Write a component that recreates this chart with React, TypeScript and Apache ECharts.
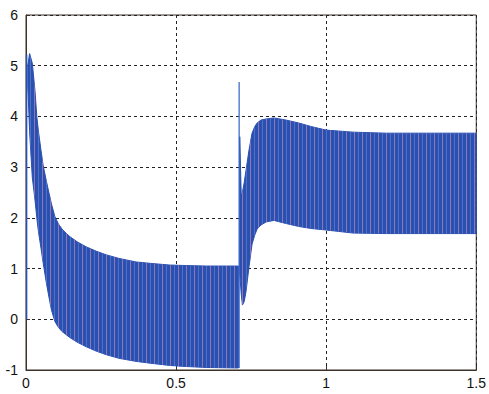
import React, { useEffect, useRef } from "react";
import * as echarts from "echarts";

// x ticks / y ticks
const xTicks = [0, 0.5, 1, 1.5];
const yTicks = [-1, 0, 1, 2, 3, 4, 5, 6];

// First interval: envelope of the oscillation (upper / lower)
const sec1Time = [0.006, 0.012, 0.021, 0.03, 0.036, 0.041, 0.05, 0.057, 0.068, 0.077, 0.085, 0.096, 0.108, 0.12, 0.133, 0.146, 0.17, 0.2, 0.235, 0.268, 0.31, 0.367, 0.42, 0.478, 0.53, 0.6, 0.705, 0.708];
const sec1Upper = [5.0, 5.24, 5.05, 4.5, 4.0, 3.73, 3.33, 3.04, 2.72, 2.48, 2.27, 2.03, 1.88, 1.78, 1.7, 1.63, 1.53, 1.43, 1.34, 1.27, 1.2, 1.13, 1.1, 1.07, 1.06, 1.05, 1.05, 1.05];
const sec1Lower = [4.6, 3.7, 2.8, 2.35, 2.0, 1.75, 1.4, 1.12, 0.71, 0.42, 0.18, -0.04, -0.16, -0.24, -0.3, -0.36, -0.45, -0.54, -0.63, -0.7, -0.77, -0.83, -0.87, -0.91, -0.93, -0.95, -0.96, -0.96];

// Second interval
const sec2Time = [0.712, 0.717, 0.721, 0.727, 0.733, 0.743, 0.753, 0.762, 0.77, 0.783, 0.8, 0.826, 0.865, 0.909, 0.95, 1.0, 1.09, 1.2, 1.35, 1.5];
const sec2Upper = [3.6, 2.45, 2.5, 2.7, 2.94, 3.34, 3.67, 3.8, 3.87, 3.93, 3.95, 3.97, 3.93, 3.87, 3.8, 3.73, 3.69, 3.67, 3.67, 3.67];
const sec2Lower = [0.9, 0.5, 0.28, 0.35, 0.55, 1.04, 1.48, 1.66, 1.78, 1.86, 1.92, 1.95, 1.89, 1.83, 1.79, 1.76, 1.7, 1.69, 1.69, 1.69];

// Single spikes
const startTime = [0.002, 0.002];
const startValue = [0, 5.22];
const spikeTime = [0.71, 0.71];
const spikeValue = [-0.96, 4.68];

const BLUE = "#2a50b0";

function makeStripes() {
  const c = document.createElement("canvas");
  c.width = 8;
  c.height = 1;
  const ctx = c.getContext("2d");
  if (ctx) {
    ctx.clearRect(0, 0, 8, 1);
    ctx.fillStyle = "rgba(214,140,190,0.6)";
    ctx.fillRect(2, 0, 1, 1);
    ctx.fillStyle = "rgba(110,145,225,0.5)";
    ctx.fillRect(6, 0, 1, 1);
  }
  return c;
}

function bandSeries(name: string, t: number[], up: number[], lo: number[], stripes: HTMLCanvasElement) {
  return {
    name,
    type: "custom",
    data: t.map((x, i) => [x, up[i], lo[i]]),
    encode: { x: 0, y: [1, 2] },
    silent: true,
    clip: true,
    renderItem: (params: any, api: any) => {
      if (params.dataIndex !== 0) return null;
      const pts: number[][] = [];
      for (let i = 0; i < t.length; i++) pts.push(api.coord([t[i], up[i]]));
      for (let i = t.length - 1; i >= 0; i--) pts.push(api.coord([t[i], lo[i]]));
      return {
        type: "group",
        children: [
          {
            type: "polygon",
            shape: { points: pts },
            style: { fill: BLUE, stroke: BLUE, lineWidth: 1 },
          },
          {
            type: "polygon",
            shape: { points: pts },
            style: {
              fill: { image: stripes, repeat: "repeat", imageWidth: 8, imageHeight: 1 },
            },
          },
        ],
      };
    },
  };
}

export default function App() {
  const ref = useRef<HTMLDivElement>(null);
  useEffect(() => {
    if (!ref.current) return;
    const chart = echarts.init(ref.current, null, { renderer: "svg" });
    const fontFamily = "'Liberation Sans', Arial, sans-serif";
    const stripes = makeStripes();
    chart.setOption({
      animation: false,
      backgroundColor: "#ffffff",
      grid: {
        left: 26,
        right: 11,
        top: 15,
        bottom: 24,
        show: true,
        borderColor: "#3b3129",
        borderWidth: 1,
        backgroundColor: "#ffffff",
      },
      xAxis: {
        type: "value",
        min: xTicks[0],
        max: xTicks[xTicks.length - 1],
        interval: 0.5,
        axisLine: { show: true, onZero: false, lineStyle: { color: "#3b3129", width: 1 } },
        axisTick: { show: true, inside: true, length: 4, lineStyle: { color: "#3b3129" } },
        axisLabel: { color: "#111", fontSize: 14, fontFamily, margin: 6 },
        splitLine: { show: true, lineStyle: { color: "#222", type: [3, 3], width: 1 } },
      },
      yAxis: {
        type: "value",
        min: yTicks[0],
        max: yTicks[yTicks.length - 1],
        interval: 1,
        axisLine: { show: true, onZero: false, lineStyle: { color: "#3b3129", width: 1 } },
        axisTick: { show: true, inside: true, length: 4, lineStyle: { color: "#3b3129" } },
        axisLabel: { color: "#111", fontSize: 14, fontFamily, margin: 8 },
        splitLine: { show: true, lineStyle: { color: "#222", type: [3, 3], width: 1 } },
      },
      series: [
        bandSeries("s1", sec1Time, sec1Upper, sec1Lower, stripes),
        bandSeries("s2", sec2Time, sec2Upper, sec2Lower, stripes),
        {
          name: "start",
          type: "line",
          data: startTime.map((x, i) => [x, startValue[i]]),
          symbol: "none",
          lineStyle: { width: 1.5, color: BLUE },
        },
        {
          name: "spike",
          type: "line",
          data: spikeTime.map((x, i) => [x, spikeValue[i]]),
          symbol: "none",
          lineStyle: { width: 1.2, color: "#2f62c8" },
        },
      ],
    });
    return () => chart.dispose();
  }, []);
  return (
    <div
      ref={ref}
      style={{ position: "fixed", left: 0, top: 0, width: 489, height: 394 }}
    />
  );
}
